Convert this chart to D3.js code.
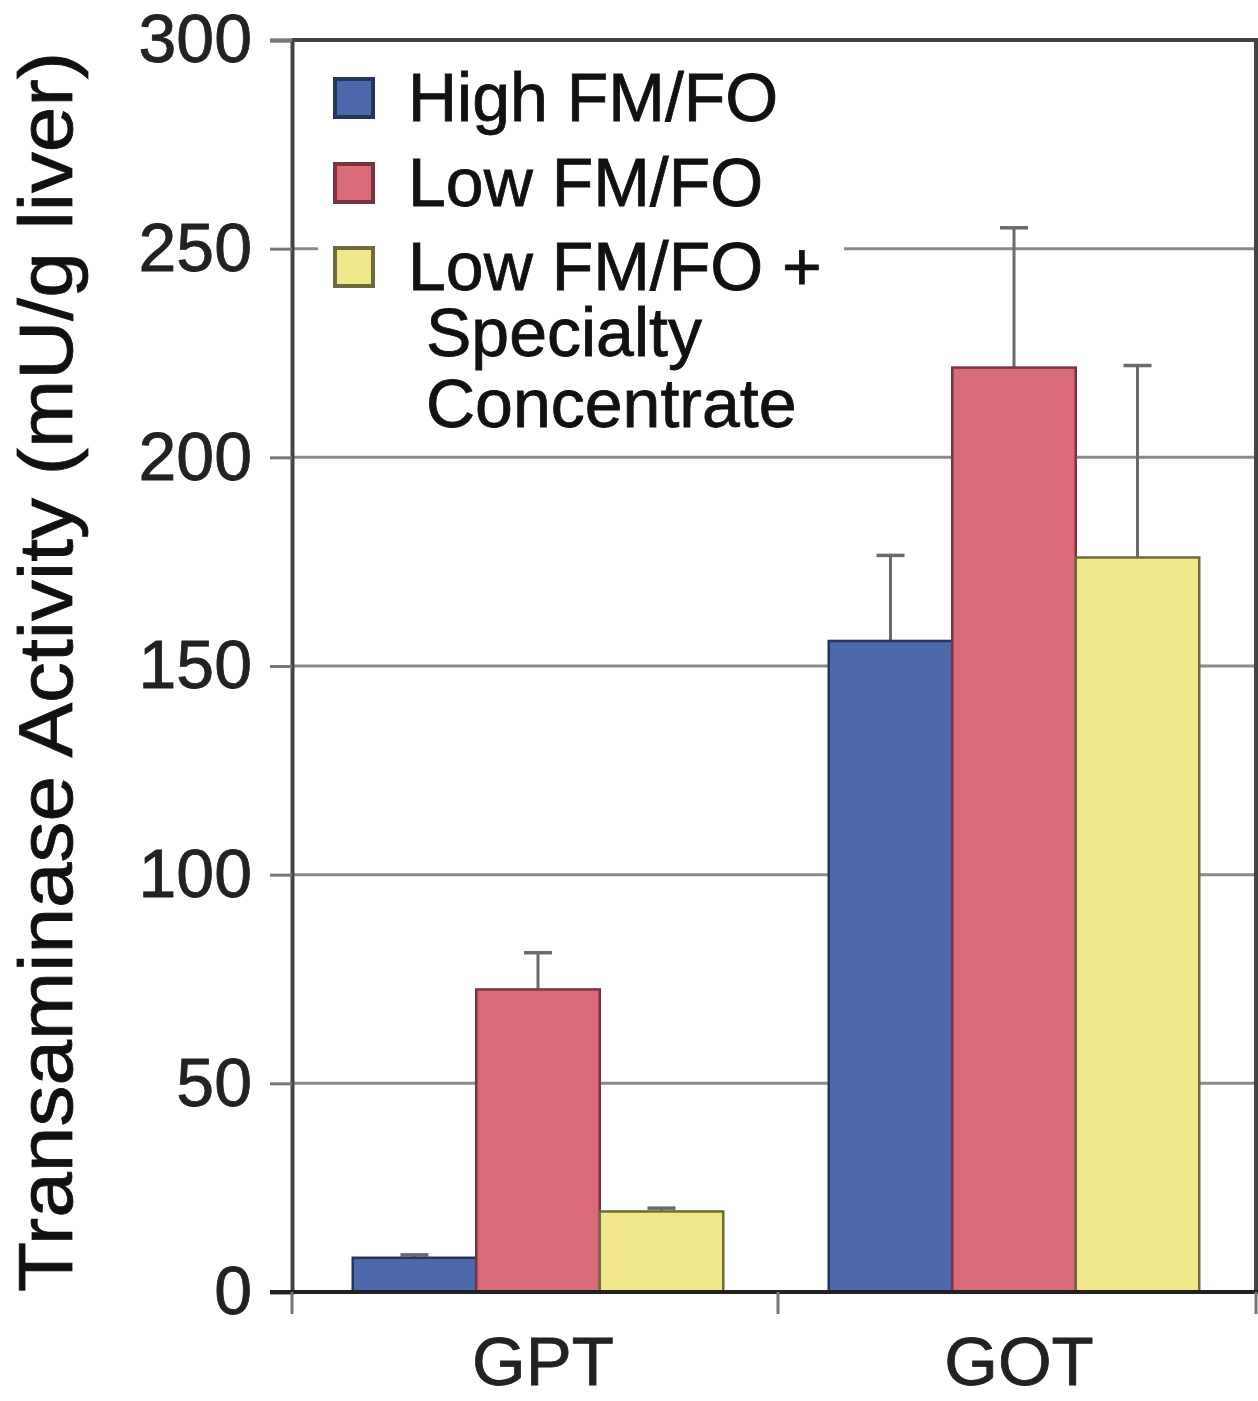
<!DOCTYPE html>
<html>
<head>
<meta charset="utf-8">
<script src="https://cdn.jsdelivr.net/npm/d3@7"></script>
<style>
  body { margin: 0; background: #fff; }
  svg { display: block; font-family: "Liberation Sans", Arial, sans-serif; }
  text { stroke: currentColor; stroke-width: 0.8px; }
</style>
</head>
<body>
<svg id="chart" width="1258" height="1401"></svg>
<script>
// data
const categories = ["GPT", "GOT"];
const seriesNames = ["High FM/FO", "Low FM/FO", "Low FM/FO + Specialty Concentrate"];
const legendLines = [["High FM/FO"], ["Low FM/FO"], ["Low FM/FO +", "Specialty", "Concentrate"]];
const highValues = [8.2, 156];
const highErrors = [0.7, 20.5];
const lowValues = [72.5, 221.5];
const lowErrors = [8.8, 33.5];
const specValues = [19.3, 176];
const specErrors = [0.8, 46];
const yTicks = [0, 50, 100, 150, 200, 250, 300];

const fills = ["#4b69ab", "#d96a77", "#f0e68a"];
const strokes = ["#26345e", "#7a3441", "#6e6a3c"];

const values = [highValues, lowValues, specValues];
const errors = [highErrors, lowErrors, specErrors];

// flat table for the join
const rows = [];
categories.forEach((c, ci) => {
  seriesNames.forEach((s, si) => {
    rows.push({cat: c, series: s, si: si, value: values[si][ci], err: errors[si][ci]});
  });
});

const svg = d3.select("#chart");

const plotLeft = 292, plotRight = 1256, plotTop = 40, plotBottom = 1292;

const y = d3.scaleLinear().domain([0, 300]).range([plotBottom, plotTop]);
const x0 = d3.scaleBand().domain(categories).range([300, 1252]).padding(0);
const x1 = d3.scaleBand().domain(seriesNames).range([0, x0.bandwidth()])
  .paddingInner(0).paddingOuter(0.427);

// grid lines
svg.append("g")
  .selectAll("line")
  .data(yTicks.filter(t => t > 0 && t < 300))
  .join("line")
  .attr("x1", plotLeft).attr("x2", plotRight)
  .attr("y1", d => y(d)).attr("y2", d => y(d))
  .attr("stroke", "#8a8a8a")
  .attr("stroke-width", 3);

// legend background box breaks the 250 grid line
svg.append("rect")
  .attr("x", 318).attr("y", 62)
  .attr("width", 526).attr("height", 378)
  .attr("fill", "#fff");

// error bars (upward only)
const errG = svg.append("g");
const barMid = d => x0(d.cat) + x1(d.series) + x1.bandwidth() / 2;
errG.selectAll("line.stem")
  .data(rows)
  .join("line")
  .attr("class", "stem")
  .attr("x1", barMid)
  .attr("x2", barMid)
  .attr("y1", d => y(d.value))
  .attr("y2", d => y(d.value + d.err))
  .attr("stroke", "#6a6a6a")
  .attr("stroke-width", 3);
errG.selectAll("line.cap")
  .data(rows)
  .join("line")
  .attr("class", "cap")
  .attr("x1", d => barMid(d) - 14)
  .attr("x2", d => barMid(d) + 14)
  .attr("y1", d => y(d.value + d.err))
  .attr("y2", d => y(d.value + d.err))
  .attr("stroke", "#6a6a6a")
  .attr("stroke-width", 3.5);

// bars
svg.append("g")
  .selectAll("rect")
  .data(rows)
  .join("rect")
  .attr("x", d => x0(d.cat) + x1(d.series))
  .attr("y", d => y(d.value))
  .attr("width", x1.bandwidth())
  .attr("height", d => y(0) - y(d.value))
  .attr("fill", d => fills[d.si])
  .attr("stroke", d => strokes[d.si])
  .attr("stroke-width", 2.5);

// frame top and right
svg.append("line")
  .attr("x1", plotLeft).attr("x2", plotRight + 2)
  .attr("y1", plotTop).attr("y2", plotTop)
  .attr("stroke", "#444").attr("stroke-width", 4);
svg.append("line")
  .attr("x1", plotRight).attr("x2", plotRight)
  .attr("y1", plotTop).attr("y2", plotBottom)
  .attr("stroke", "#444").attr("stroke-width", 4);

// y axis
const yAxis = svg.append("g")
  .attr("transform", `translate(${plotLeft},0)`)
  .call(d3.axisLeft(y).tickValues(yTicks).tickSize(22).tickPadding(18));
yAxis.select(".domain").attr("stroke", "#444").attr("stroke-width", 4);
yAxis.selectAll(".tick line").attr("stroke", "#777").attr("stroke-width", 3);
yAxis.selectAll(".tick text")
  .attr("font-size", 68)
  .attr("fill", "#222")
  .style("color", "#222")
  .attr("font-family", "Liberation Sans, Arial, sans-serif");

// x axis: ticks at the plot edges and between the groups, labels at group centres
const xAxisG = svg.append("g").attr("transform", `translate(0,${plotBottom})`);
xAxisG.append("line")
  .attr("x1", plotLeft - 22).attr("x2", plotRight + 2)
  .attr("stroke", "#222").attr("stroke-width", 4);
const edges = [plotLeft, x0(categories[1]) + 2, plotRight];
xAxisG.selectAll("line.xtick")
  .data(edges)
  .join("line")
  .attr("class", "xtick")
  .attr("x1", d => d).attr("x2", d => d)
  .attr("y1", 0).attr("y2", 22)
  .attr("stroke", "#777").attr("stroke-width", 3);
xAxisG.selectAll("text")
  .data(categories)
  .join("text")
  .attr("x", d => x0(d) + x0.bandwidth() / 2 + 5)
  .attr("y", 93)
  .attr("text-anchor", "middle")
  .attr("font-size", 69)
  .attr("fill", "#222")
  .style("color", "#222")
  .text(d => d);

// y axis title
svg.append("text")
  .attr("transform", "translate(72,672) rotate(-90)")
  .attr("text-anchor", "middle")
  .attr("font-size", 76)
  .attr("textLength", 1240)
  .attr("lengthAdjust", "spacingAndGlyphs")
  .attr("fill", "#111")
  .style("color", "#111")
  .text("Transaminase Activity (mU/g liver)");

// legend
const legendTops = [79, 164, 248];
const legend = svg.append("g");
legendLines.forEach((lines, i) => {
  legend.append("rect")
    .attr("x", 335).attr("y", legendTops[i])
    .attr("width", 38).attr("height", 38)
    .attr("fill", fills[i])
    .attr("stroke", strokes[i])
    .attr("stroke-width", 4);
  lines.forEach((ln, j) => {
    legend.append("text")
      .attr("x", j === 0 ? 408 : 426)
      .attr("y", legendTops[i] + 42 + (j === 0 ? 0 : 66 + (j - 1) * 71))
      .attr("font-size", 68)
      .attr("fill", "#111")
      .style("color", "#111")
      .text(ln);
  });
});
</script>
</body>
</html>
